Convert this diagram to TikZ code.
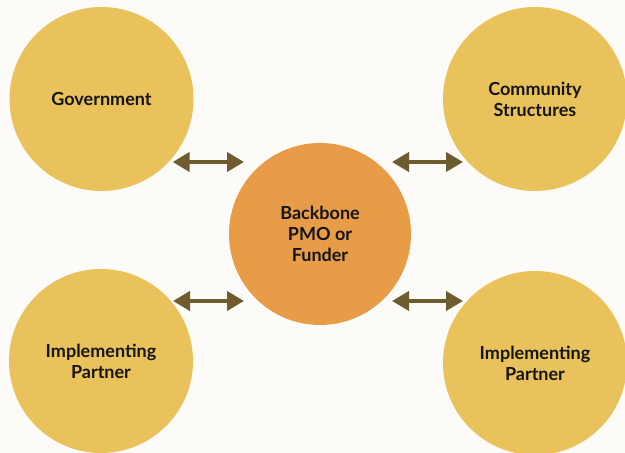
\documentclass[tikz,border=0pt]{standalone}
\usepackage{fontspec}
\setmainfont{Lato}
\usetikzlibrary{arrows.meta}
\definecolor{bgc}{HTML}{FCFBF8}
\definecolor{yel}{HTML}{E9C25B}
\definecolor{org}{HTML}{E89C47}
\definecolor{arr}{HTML}{6E5B2E}
\definecolor{txt}{HTML}{141414}
\tikzset{
  outer/.style={circle, fill=yel, minimum size=184pt, inner sep=0pt, align=center, text=txt, font=\bfseries\fontsize{18}{21}\selectfont},
  hub/.style={circle, fill=org, minimum size=182pt, inner sep=0pt, align=center, text=txt, font=\bfseries\fontsize{18}{21}\selectfont},
  link/.style={draw=arr, line width=4pt, {Triangle[length=17pt,width=19pt]}-{Triangle[length=17pt,width=19pt]}}
}
\begin{document}
\begin{tikzpicture}[x=1pt,y=1pt]
\fill[bgc] (0,0) rectangle (625,453);
\useasboundingbox (0,0) rectangle (625,453);
\node[outer] (gov) at (101.5,354) {Government};
\node[outer] (com) at (535,354) {Community\\Structures};
\node[outer] (ip1) at (101,92) {Implementing\\Partner};
\node[outer] (ip2) at (535,90) {Implementing\\Partner};
\node[hub] (hub) at (320,219) {Backbone\\PMO or\\Funder};
\coordinate (a1) at (172.7,291);
\coordinate (b1) at (244,291);
\coordinate (a2) at (392,291);
\coordinate (b2) at (463,291);
\coordinate (a3) at (173,152);
\coordinate (b3) at (244,152);
\coordinate (a4) at (392,152);
\coordinate (b4) at (463,152);
\draw[link] (a1) -- (b1);
\draw[link] (a2) -- (b2);
\draw[link] (a3) -- (b3);
\draw[link] (a4) -- (b4);
\end{tikzpicture}
\end{document}
